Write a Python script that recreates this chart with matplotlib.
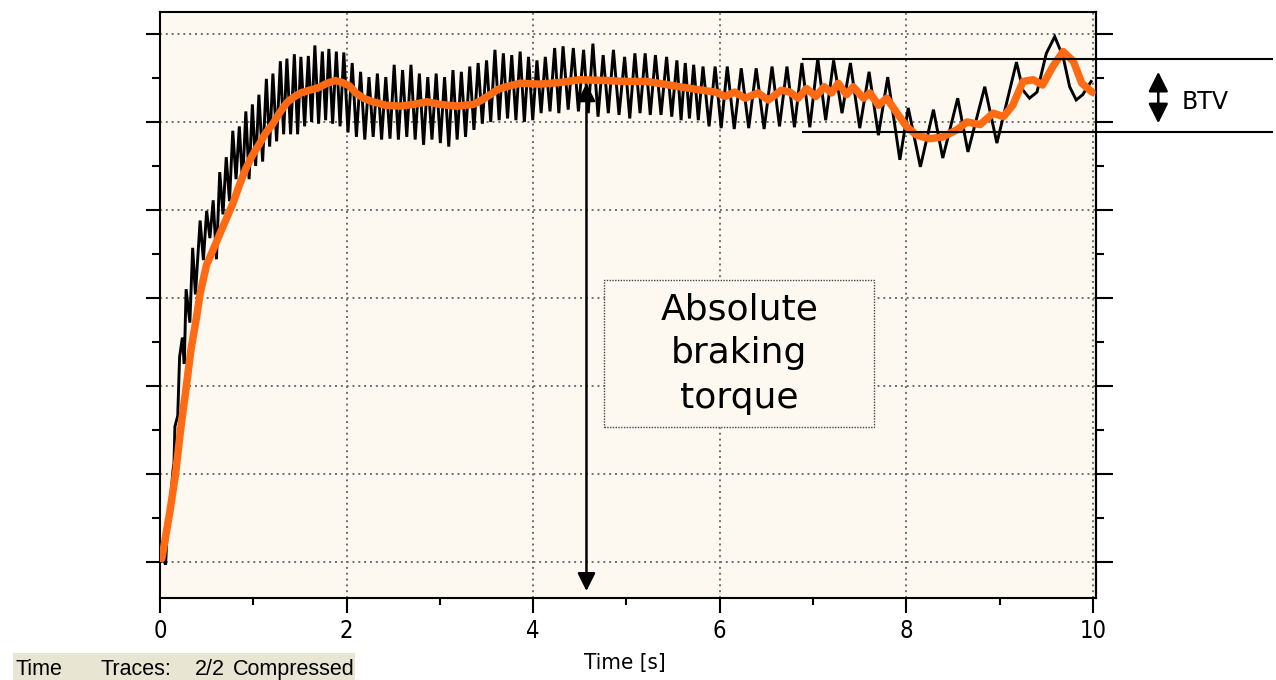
import matplotlib
matplotlib.use("Agg")
import matplotlib.pyplot as plt
from matplotlib.patches import Rectangle
from matplotlib import font_manager

# ---------------- data ----------------
x_major = [0, 2, 4, 6, 8, 10]
x_labels = ["0", "2", "4", "6", "8", "10"]
x_minor = [1, 3, 5, 7, 9]
y_major = [0, 1, 2, 3, 4, 5, 6]
y_minor = [0.5, 1.5, 2.5, 3.5, 4.5, 5.5]

# raw (black) torque trace: time [s], value (grid units)
black_t = [0.00, 0.04, 0.06, 0.07, 0.09, 0.12, 0.14, 0.15, 0.16, 0.19, 0.21, 0.24, 0.26, 0.28, 0.32, 0.35, 0.38,
           0.43, 0.465, 0.50, 0.535, 0.57, 0.605, 0.64, 0.675, 0.71, 0.745, 0.78, 0.815, 0.85, 0.885, 0.92, 0.955,
           0.99, 1.025, 1.06, 1.10, 1.14, 1.175, 1.21, 1.25, 1.29, 1.325, 1.36, 1.40, 1.44, 1.475, 1.51, 1.55,
           1.59, 1.625, 1.66, 1.70, 1.74, 1.775, 1.81, 1.85, 1.89, 1.93, 1.97, 2.015,
           2.06, 2.105, 2.15, 2.195, 2.24, 2.285, 2.33, 2.375, 2.42, 2.465, 2.51, 2.555, 2.60, 2.645, 2.69, 2.735,
           2.78, 2.825, 2.87, 2.915, 2.96, 3.005, 3.05, 3.095, 3.14, 3.185, 3.23, 3.275, 3.32, 3.365, 3.41, 3.455,
           3.50, 3.545, 3.59, 3.635, 3.68, 3.725, 3.77, 3.815, 3.86, 3.905, 3.95, 3.995,
           4.04, 4.085, 4.13, 4.18, 4.23, 4.275, 4.32, 4.375, 4.43, 4.485, 4.54, 4.59, 4.64, 4.695, 4.75, 4.805,
           4.86, 4.92, 4.98, 5.035, 5.09, 5.145, 5.20, 5.255, 5.31, 5.37, 5.43, 5.485, 5.54, 5.585, 5.63, 5.675,
           5.72, 5.77, 5.82, 5.885, 5.95, 6.015,
           6.08, 6.155, 6.23, 6.31, 6.39, 6.475, 6.56, 6.64, 6.72, 6.80, 6.88, 6.965, 7.05, 7.135, 7.22, 7.31,
           7.40, 7.50, 7.60, 7.70, 7.80, 7.93,
           8.02, 8.15, 8.29, 8.39, 8.55, 8.66, 8.84, 8.97, 9.18, 9.25, 9.32, 9.40, 9.50, 9.59, 9.68, 9.75, 9.82,
           9.89, 9.98]
black_v = [0.00, 0.02, -0.03, 0.20, 0.51, 0.80, 1.05, 1.12, 1.54, 1.66, 2.33, 2.55, 2.25, 3.10, 2.72, 3.57, 3.04,
           3.88, 3.43, 3.99, 3.68, 4.11, 3.44, 4.43, 3.95, 4.60, 4.10, 4.90, 4.35, 4.95, 4.30, 5.12, 4.35,
           5.20, 4.50, 5.31, 4.55, 5.49, 4.72, 5.55, 4.78, 5.69, 4.86, 5.72, 4.86, 5.77, 4.86, 5.74, 4.95,
           5.75, 5.00, 5.87, 4.98, 5.80, 5.02, 5.83, 4.98, 5.80, 4.95, 5.79, 4.88,
           5.67, 4.83, 5.57, 4.80, 5.51, 4.83, 5.55, 4.80, 5.51, 4.81, 5.65, 4.80, 5.59, 4.83, 5.65, 4.80,
           5.55, 4.74, 5.51, 4.80, 5.55, 4.76, 5.51, 4.72, 5.59, 4.80, 5.57, 4.83, 5.63, 4.91, 5.67, 4.98,
           5.70, 5.00, 5.82, 5.02, 5.78, 5.04, 5.76, 5.02, 5.80, 5.00, 5.74, 5.02,
           5.70, 5.10, 5.74, 5.12, 5.84, 5.10, 5.86, 5.14, 5.84, 5.12, 5.82, 5.10, 5.89, 5.06, 5.76, 5.10,
           5.82, 5.08, 5.74, 5.04, 5.78, 5.10, 5.78, 5.08, 5.76, 5.08, 5.74, 5.06, 5.70, 5.02, 5.67, 5.04,
           5.65, 5.02, 5.63, 4.95, 5.63, 4.93,
           5.63, 4.92, 5.61, 4.93, 5.61, 4.92, 5.63, 4.95, 5.63, 4.94, 5.67, 4.94, 5.72, 5.02, 5.70, 5.10,
           5.67, 4.93, 5.57, 4.85, 5.51, 4.57,
           5.16, 4.49, 5.14, 4.59, 5.27, 4.66, 5.40, 4.76, 5.68, 5.36, 5.27, 5.34, 5.78, 5.97, 5.74, 5.40, 5.25,
           5.31, 5.46]

# filtered (orange) torque trace
orange_t = [0.02, 0.07, 0.11, 0.17, 0.22, 0.28, 0.33, 0.39, 0.43, 0.50, 0.57, 0.65, 0.78, 0.85, 0.92, 0.99,
            1.06, 1.13, 1.21, 1.28, 1.36, 1.43, 1.51, 1.60, 1.70, 1.79, 1.88, 1.95, 2.03, 2.10, 2.18, 2.28,
            2.42, 2.57, 2.72, 2.86, 3.00, 3.18, 3.36, 3.45, 3.54, 3.62, 3.71, 3.86, 4.07, 4.30, 4.50, 4.80,
            5.00, 5.22, 5.40, 5.57, 5.75, 5.95, 6.06, 6.16, 6.27, 6.41, 6.52, 6.66, 6.75, 6.84, 6.93, 7.03,
            7.12, 7.20, 7.27, 7.36, 7.43, 7.54, 7.61, 7.70, 7.79, 7.90, 8.00, 8.11, 8.25, 8.39, 8.54, 8.65,
            8.79, 8.93, 9.04, 9.14, 9.25, 9.36, 9.46, 9.57, 9.68, 9.79, 9.88, 9.99]
orange_v = [0.04, 0.35, 0.60, 1.03, 1.50, 1.98, 2.40, 2.77, 3.05, 3.38, 3.55, 3.75, 4.07, 4.28, 4.47, 4.62,
            4.74, 4.87, 4.98, 5.10, 5.22, 5.28, 5.33, 5.36, 5.39, 5.44, 5.47, 5.45, 5.41, 5.33, 5.27, 5.23,
            5.19, 5.18, 5.20, 5.23, 5.20, 5.18, 5.20, 5.25, 5.31, 5.37, 5.40, 5.44, 5.43, 5.45, 5.48, 5.47,
            5.46, 5.46, 5.43, 5.40, 5.37, 5.34, 5.29, 5.34, 5.27, 5.33, 5.25, 5.36, 5.34, 5.27, 5.38, 5.29,
            5.40, 5.33, 5.44, 5.31, 5.40, 5.27, 5.33, 5.19, 5.27, 5.10, 4.95, 4.85, 4.81, 4.83, 4.91, 5.00,
            4.97, 5.10, 5.06, 5.19, 5.46, 5.48, 5.42, 5.63, 5.80, 5.69, 5.44, 5.34]

# annotation anchors (data units)
arrow_t = 4.571
arrow_span = [5.44, -0.33]
btv_levels = [5.713, 4.89]
btv_t_range = [6.895, 11.92]
btv_arrow_t = 10.70
btv_arrow_span = [5.57, 4.985]

# ---------------- fonts ----------------
names = {f.name for f in font_manager.fontManager.ttflist}
narrow_kw = {"family": "Liberation Sans"}
if "Liberation Sans Narrow" in names:
    narrow_kw = {"family": "Liberation Sans Narrow"}
else:
    for f in font_manager.fontManager.ttflist:
        if f.name == "DejaVu Sans" and str(f.stretch) in ("condensed", "semi-condensed"):
            narrow_kw = {"family": "DejaVu Sans", "stretch": "condensed"}
            break

# ---------------- figure ----------------
W, H = 1276, 680
fig = plt.figure(figsize=(W / 100, H / 100), dpi=100)
fig.patch.set_facecolor("white")
L, R, T, B = 160, 1095.5, 11.7, 598
ax = fig.add_axes([L / W, 1 - B / H, (R - L) / W, (B - T) / H])
ax.set_facecolor("#fdf9f0")

ax.plot(black_t, black_v, color="black", lw=2.1, zorder=3, solid_joinstyle="miter")
ax.plot(orange_t, orange_v, color="#ff6a13", lw=5.4, zorder=4, solid_capstyle="round",
        solid_joinstyle="round")

ax.set_xlim(0, 10.027)
ax.set_ylim(-0.409, 6.253)

ax.set_xticks(x_major)
ax.set_xticklabels(x_labels, fontsize=17, **narrow_kw)
ax.set_xticks(x_minor, minor=True)
ax.set_yticks(y_major)
ax.set_yticks(y_minor, minor=True)
ax.tick_params(axis="y", which="both", labelleft=False, right=False, direction="out")
ax.tick_params(axis="y", which="major", length=10, width=1.5)
ax.tick_params(axis="y", which="minor", length=5.8, width=1.5)
ax.tick_params(axis="x", which="major", length=10.8, width=1.5, pad=4, direction="out")
ax.tick_params(axis="x", which="minor", length=5, width=1.5, direction="out")

for s in ax.spines.values():
    s.set_linewidth(1.5)

sec = ax.secondary_yaxis("right")
sec.set_yticks(y_major)
sec.set_yticks(y_minor, minor=True)
sec.tick_params(which="major", length=12, width=1.5, labelright=False)
sec.tick_params(which="minor", length=6, width=1.5, labelright=False)
sec.spines["right"].set_linewidth(1.5)

ax.set_axisbelow(True)
ax.grid(which="major", color="#6e6e6e", linestyle=(0, (1, 2.0)), linewidth=1.4)

# vertical arrow (absolute braking torque)
ax.annotate("", xy=(arrow_t, arrow_span[1]), xytext=(arrow_t, arrow_span[0]),
            arrowprops=dict(arrowstyle="<|-|>", color="black", lw=1.8,
                            mutation_scale=27, shrinkA=0, shrinkB=0), zorder=5)

# annotation box
ax.add_patch(Rectangle((4.762, 1.538), 7.655 - 4.762, 3.205 - 1.538, facecolor="#fdf9f0",
                       edgecolor="#444444", linestyle=(0, (1, 1)), linewidth=1.0, zorder=2))
ax.text(6.21, 2.37, "Absolute\nbraking\ntorque", ha="center", va="center", fontsize=26,
        family="DejaVu Sans", linespacing=1.38, zorder=3)

# BTV lines, arrow and label (extend beyond the axes)
for lv in btv_levels:
    ax.plot(btv_t_range, [lv, lv], color="black", lw=1.5, clip_on=False, zorder=5)
ax.annotate("", xy=(btv_arrow_t, btv_arrow_span[1]), xytext=(btv_arrow_t, btv_arrow_span[0]),
            arrowprops=dict(arrowstyle="<|-|>", color="black", lw=1.8,
                            mutation_scale=30, shrinkA=0, shrinkB=0),
            annotation_clip=False, zorder=5)
ax.text(10.95, 5.23, "BTV", ha="left", va="center", fontsize=17, family="DejaVu Sans",
        clip_on=False)

# x label and status bar
fig.text(625 / W, 1 - 663 / H, "Time [s]", ha="center", va="center", fontsize=16, **narrow_kw)
fig.patches.append(Rectangle((13 / W, 0), (355 - 13) / W, 27 / H, transform=fig.transFigure,
                             facecolor="#e9e5d3", edgecolor="none"))
for xpx, s in [(15, "Time"), (100, "Traces:"), (195, "2/2"), (233, "Compressed")]:
    fig.text(xpx / W, 1 - 675 / H, s, ha="left", va="baseline", fontsize=15.5,
             family="Liberation Sans")

fig.savefig("out.png", dpi=100)
